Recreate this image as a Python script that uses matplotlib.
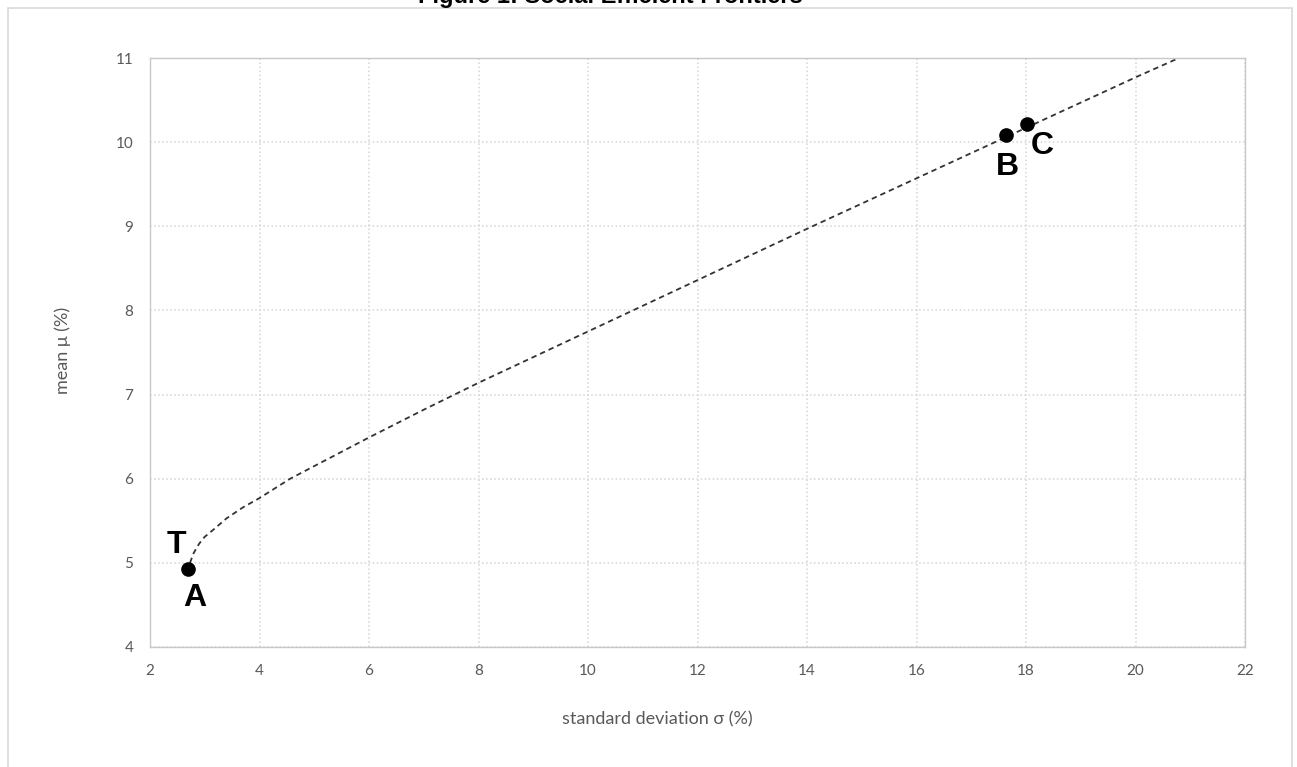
import matplotlib
matplotlib.use("Agg")
import matplotlib.pyplot as plt
from matplotlib.patches import Rectangle

# frontier: standard deviation (%) and mean (%)
frontier_sd = [2.73, 2.8, 2.9, 3.0, 3.15, 3.4, 3.7, 4.0, 4.56, 5.0, 6.0, 7.0, 8.0,
               10.0, 12.0, 14.0, 16.0, 18.0, 20.0, 21.0]
frontier_mu = [5.0, 5.12, 5.23, 5.31, 5.39, 5.53, 5.66, 5.77, 6.0, 6.15, 6.49, 6.82, 7.14,
               7.75, 8.36, 8.97, 9.57, 10.17, 10.77, 11.06]

# labelled portfolios
point_names = ["A", "B", "C"]
point_sd = [2.69, 17.63, 18.02]
point_mu = [4.93, 10.08, 10.21]

# letter labels and where they sit
label_text = ["T", "A", "B", "C"]
label_x = [2.49, 2.82, 17.67, 18.29]
label_y = [5.21, 4.58, 9.70, 9.95]

x_ticks = list(range(2, 23, 2))
y_ticks = list(range(4, 12))

grey = "#595959"

fig = plt.figure(figsize=(12.97, 7.67), dpi=100)
ax = fig.add_axes([150 / 1297, 1 - 647 / 767, 1095 / 1297, 589 / 767])

ax.plot(frontier_sd, frontier_mu, color="#333333", linestyle=(0, (3, 2.2)), linewidth=1.3)
ax.plot(point_sd, point_mu, "o", color="black", markersize=9.5, linestyle="none")

for t, x, y in zip(label_text, label_x, label_y):
    ax.text(x, y, t, ha="center", va="center", fontsize=23, fontweight="bold",
            family="Liberation Sans", color="black")

ax.set_xlim(2, 22)
ax.set_ylim(4, 11)
ax.set_xticks(x_ticks)
ax.set_yticks(y_ticks)
ax.tick_params(length=0, labelsize=11, labelcolor=grey)
ax.tick_params(axis="x", pad=12)
ax.tick_params(axis="y", pad=12)
for lab in ax.get_xticklabels() + ax.get_yticklabels():
    lab.set_family("Lato")

ax.grid(True, color="#d4d4d4", linestyle=":", linewidth=1.1)
for s in ax.spines.values():
    s.set_color("#c8c8c8")
    s.set_linewidth(1.0)

fig.text(657 / 1297, 1 - 719 / 767, "standard deviation σ (%)", ha="center", va="center",
         fontsize=13, color=grey, family=["Lato", "DejaVu Sans"])
fig.text(63 / 1297, 1 - 350 / 767, "mean μ (%)", ha="center", va="center", rotation=90,
         fontsize=13, color=grey, family=["Lato", "DejaVu Sans"])

# outer chart frame, bottom runs off the picture
fig.patches.append(Rectangle((7.5 / 1297, -0.05), 1284 / 1297, 1.05 - 8.5 / 767,
                             transform=fig.transFigure, fill=False, edgecolor="#d9d9d9",
                             linewidth=1.2))

# title is cut off at the top edge
fig.text(610 / 1297, 1 - 3 / 767, "Figure 1: Social Efficient Frontiers", ha="center",
         va="baseline", fontsize=17, fontweight="bold", family="Liberation Sans")

fig.savefig("out.png", dpi=100)
